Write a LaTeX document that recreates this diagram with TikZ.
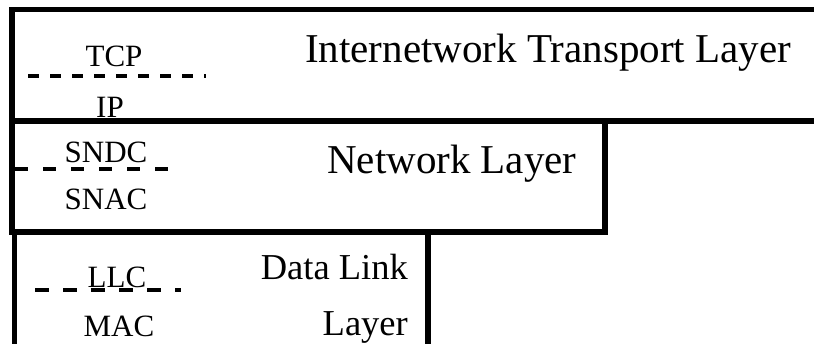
\documentclass[tikz,border=0pt]{standalone}
\usepackage{fontspec}
\setmainfont{Liberation Serif}
\begin{document}
\begin{tikzpicture}[x=1pt,y=-1pt,
  layerbox/.style={draw=black,line width=5.5pt},
  lbl/.style={inner sep=0pt,font=\fontsize{31}{31}\selectfont},
  biglbl/.style={inner sep=0pt,font=\fontsize{41}{41}\selectfont},
  midlbl/.style={inner sep=0pt,font=\fontsize{36.5}{36.5}\selectfont},
  sep/.style={line width=4.5pt}]
\useasboundingbox (0,0) rectangle (814,344);
\begin{scope}
\clip (0,0) rectangle (814,344);
% boxes
\draw[layerbox] (12,121) -- (12,9.5) -- (830,9.5);
\draw[layerbox] (12,121) -- (830,121);
\draw[layerbox] (12,121) rectangle (605,232);
\draw[layerbox] (14.5,350) -- (14.5,232) -- (428,232) -- (428,350);
\end{scope}
% Internetwork Transport Layer
\node[biglbl,anchor=base west] (itl) at (305,63) {Internetwork Transport Layer};
\node[lbl,anchor=base] (tcp) at (114,67) {TCP};
\node[lbl,anchor=base] (ip) at (110,118) {IP};
\coordinate (d1a) at (28,76);
\coordinate (d1b) at (206,76);
\draw[sep,dash pattern=on 11pt off 11pt] (d1a) -- (d1b);
% Network Layer
\node[biglbl,anchor=base west] (nl) at (327,174) {Network Layer};
\node[lbl,anchor=base] (sndc) at (106,163) {SNDC};
\node[lbl,anchor=base] (snac) at (106,210) {SNAC};
\coordinate (d2a) at (15,169);
\coordinate (d2b) at (168,169);
\draw[sep,dash pattern=on 13pt off 15pt] (d2a) -- (d2b);
% Data Link Layer
\node[midlbl,anchor=base east] (dl1) at (408,280) {Data Link};
\node[midlbl,anchor=base east] (dl2) at (408,336) {Layer};
\node[lbl,anchor=base] (llc) at (117,288) {LLC};
\node[lbl,anchor=base] (mac) at (119,337) {MAC};
\coordinate (d3a) at (35,290);
\coordinate (d3b) at (181,290);
\draw[sep,dash pattern=on 14pt off 14pt] (d3a) -- (d3b);
\end{tikzpicture}
\end{document}
